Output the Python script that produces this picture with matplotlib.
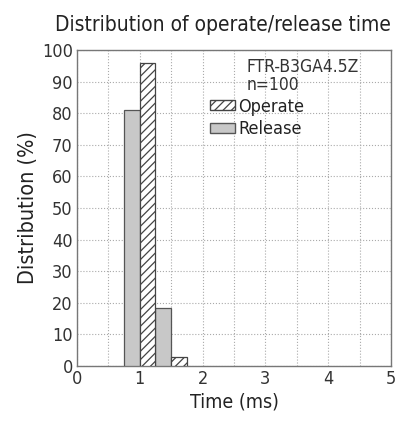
import matplotlib
matplotlib.use("Agg")
import matplotlib.pyplot as plt
from matplotlib.patches import Patch

plt.rcParams['font.family'] = ['DejaVu Sans']
plt.rcParams['font.stretch'] = 'condensed'
plt.rcParams['hatch.color'] = '#444444'
plt.rcParams['hatch.linewidth'] = 0.9

release_x = [0.75, 1.25]
release_y = [81, 18.5]
operate_x = [1.0, 1.5]
operate_y = [96, 3]
bar_width = 0.25

fig = plt.figure(figsize=(4.01, 4.23), dpi=100)
ax = fig.add_axes([0.192, 0.1348, 0.783, 0.747])

ax.bar(release_x, release_y, width=bar_width, align='edge', color='#c8c8c8',
       edgecolor='#555555', linewidth=0.9, zorder=3)
ax.bar(operate_x, operate_y, width=bar_width, align='edge', color='white',
       edgecolor='#444444', hatch='////', linewidth=0.9, zorder=3)

ax.set_xlim(0, 5)
ax.set_ylim(0, 100)
ax.set_xticks([0, 1, 2, 3, 4, 5])
ax.set_xticks([0.5, 1.5, 2.5, 3.5, 4.5], minor=True)
ax.set_yticks(range(0, 101, 10))
ax.grid(True, which='both', linestyle=':', color='#aaaaaa', linewidth=0.8, zorder=0)
ax.tick_params(which='both', length=0, labelsize=13, colors='#333333', pad=3)
for s in ax.spines.values():
    s.set_color('#777777')
    s.set_linewidth(1.0)

fig.text(0.557, 0.94, 'Distribution of operate/release time', fontsize=15,
         color='#222222', ha='center', va='center')
ax.set_xlabel('Time (ms)', fontsize=14, color='#222222', labelpad=3)
ax.set_ylabel('Distribution (%)', fontsize=15.5, color='#222222', labelpad=3)

ax.text(0.541, 0.946, 'FTR-B3GA4.5Z', transform=ax.transAxes, ha='left', va='center',
        fontsize=12.5, color='#333333')
ax.text(0.541, 0.889, 'n=100', transform=ax.transAxes, ha='left', va='center',
        fontsize=12.5, color='#333333')

handles = [Patch(facecolor='white', edgecolor='#444444', hatch='////', label='Operate'),
           Patch(facecolor='#c8c8c8', edgecolor='#555555', label='Release')]
leg = ax.legend(handles=handles, loc='upper left', bbox_to_anchor=(0.424, 0.849),
                frameon=False, fontsize=13, handlelength=1.39, handleheight=0.45,
                handletextpad=0.17, labelspacing=0.25, borderpad=0.0, borderaxespad=0)
for t in leg.get_texts():
    t.set_color('#222222')

fig.savefig('out.png', dpi=100, facecolor='white')
